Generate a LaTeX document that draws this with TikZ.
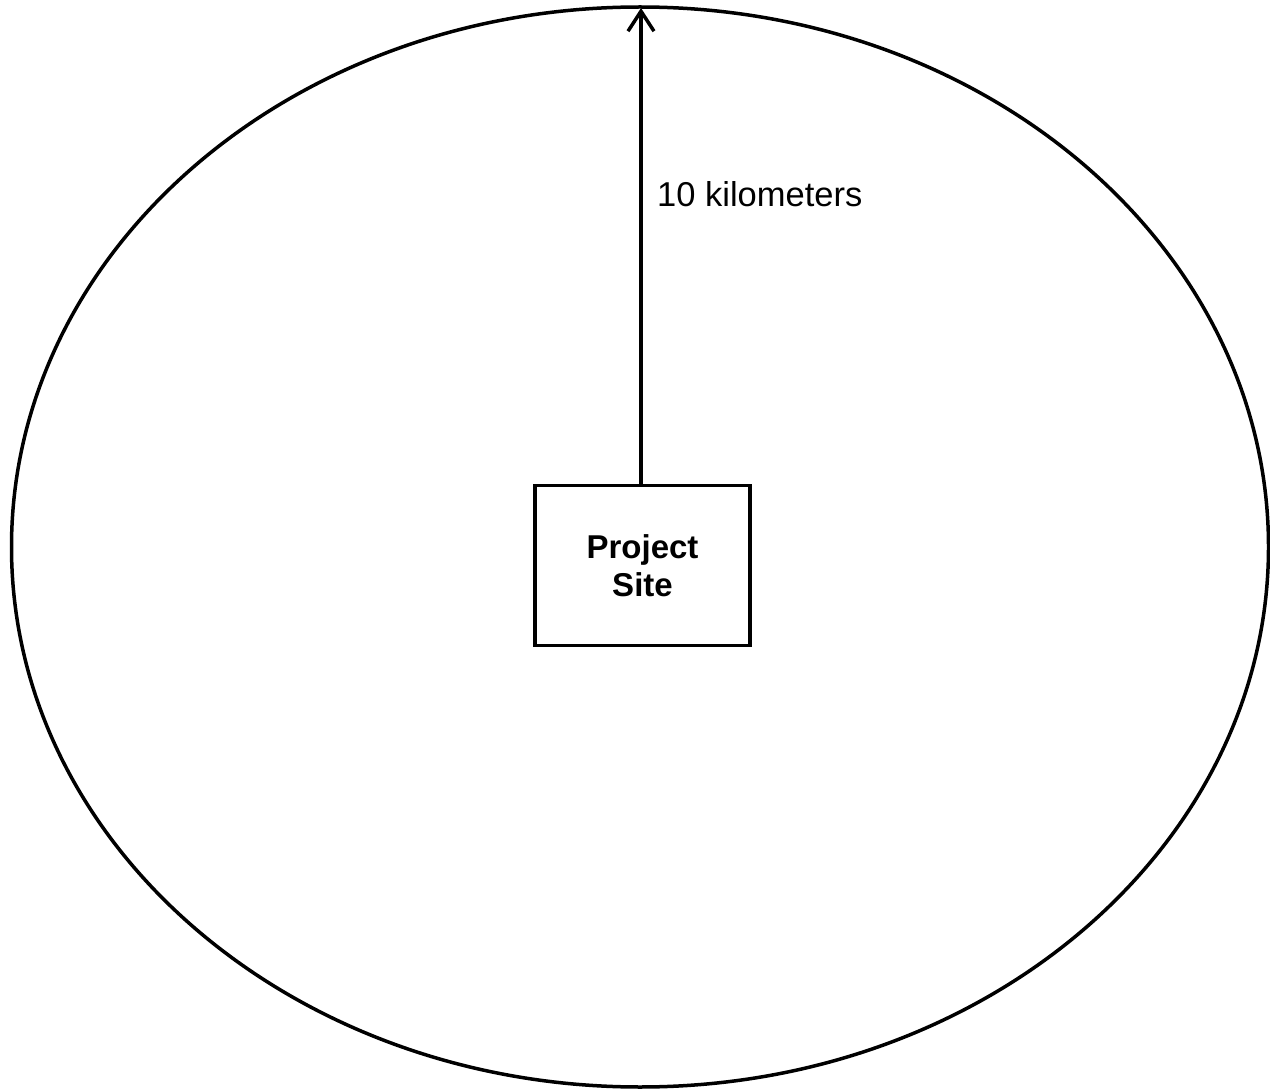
\documentclass[tikz,border=0pt]{standalone}
\usepackage{fontspec}
\setmainfont{Liberation Sans}
\usetikzlibrary{shapes.geometric,arrows.meta}
\begin{document}
\begin{tikzpicture}[x=1pt,y=-1pt,
  ringstyle/.style={draw, ellipse, line width=3.5pt, inner sep=0pt, minimum width=1257pt, minimum height=1080pt},
  sitebox/.style={draw, rectangle, line width=3.8pt, minimum width=215pt, minimum height=160pt, align=center, font=\fontsize{33}{38}\selectfont\bfseries},
  radius/.style={line width=3.5pt, -{Straight Barb[length=20pt,width=26pt,line width=3.5pt]}},
  lbl/.style={font=\fontsize{34.5}{40}\selectfont, inner sep=0pt}
]
\useasboundingbox (0,0) rectangle (1270,1091);
\node[ringstyle] (ring) at (640,547) {};
\node[sitebox] (site) at (642.5,565.5) {Project\\Site};
\coordinate (tip) at (641,8);
\draw[radius] (tip |- site.north) -- (tip);
\node[lbl, anchor=base west] (dist) at (657,207) {10 kilometers};
\end{tikzpicture}
\end{document}
